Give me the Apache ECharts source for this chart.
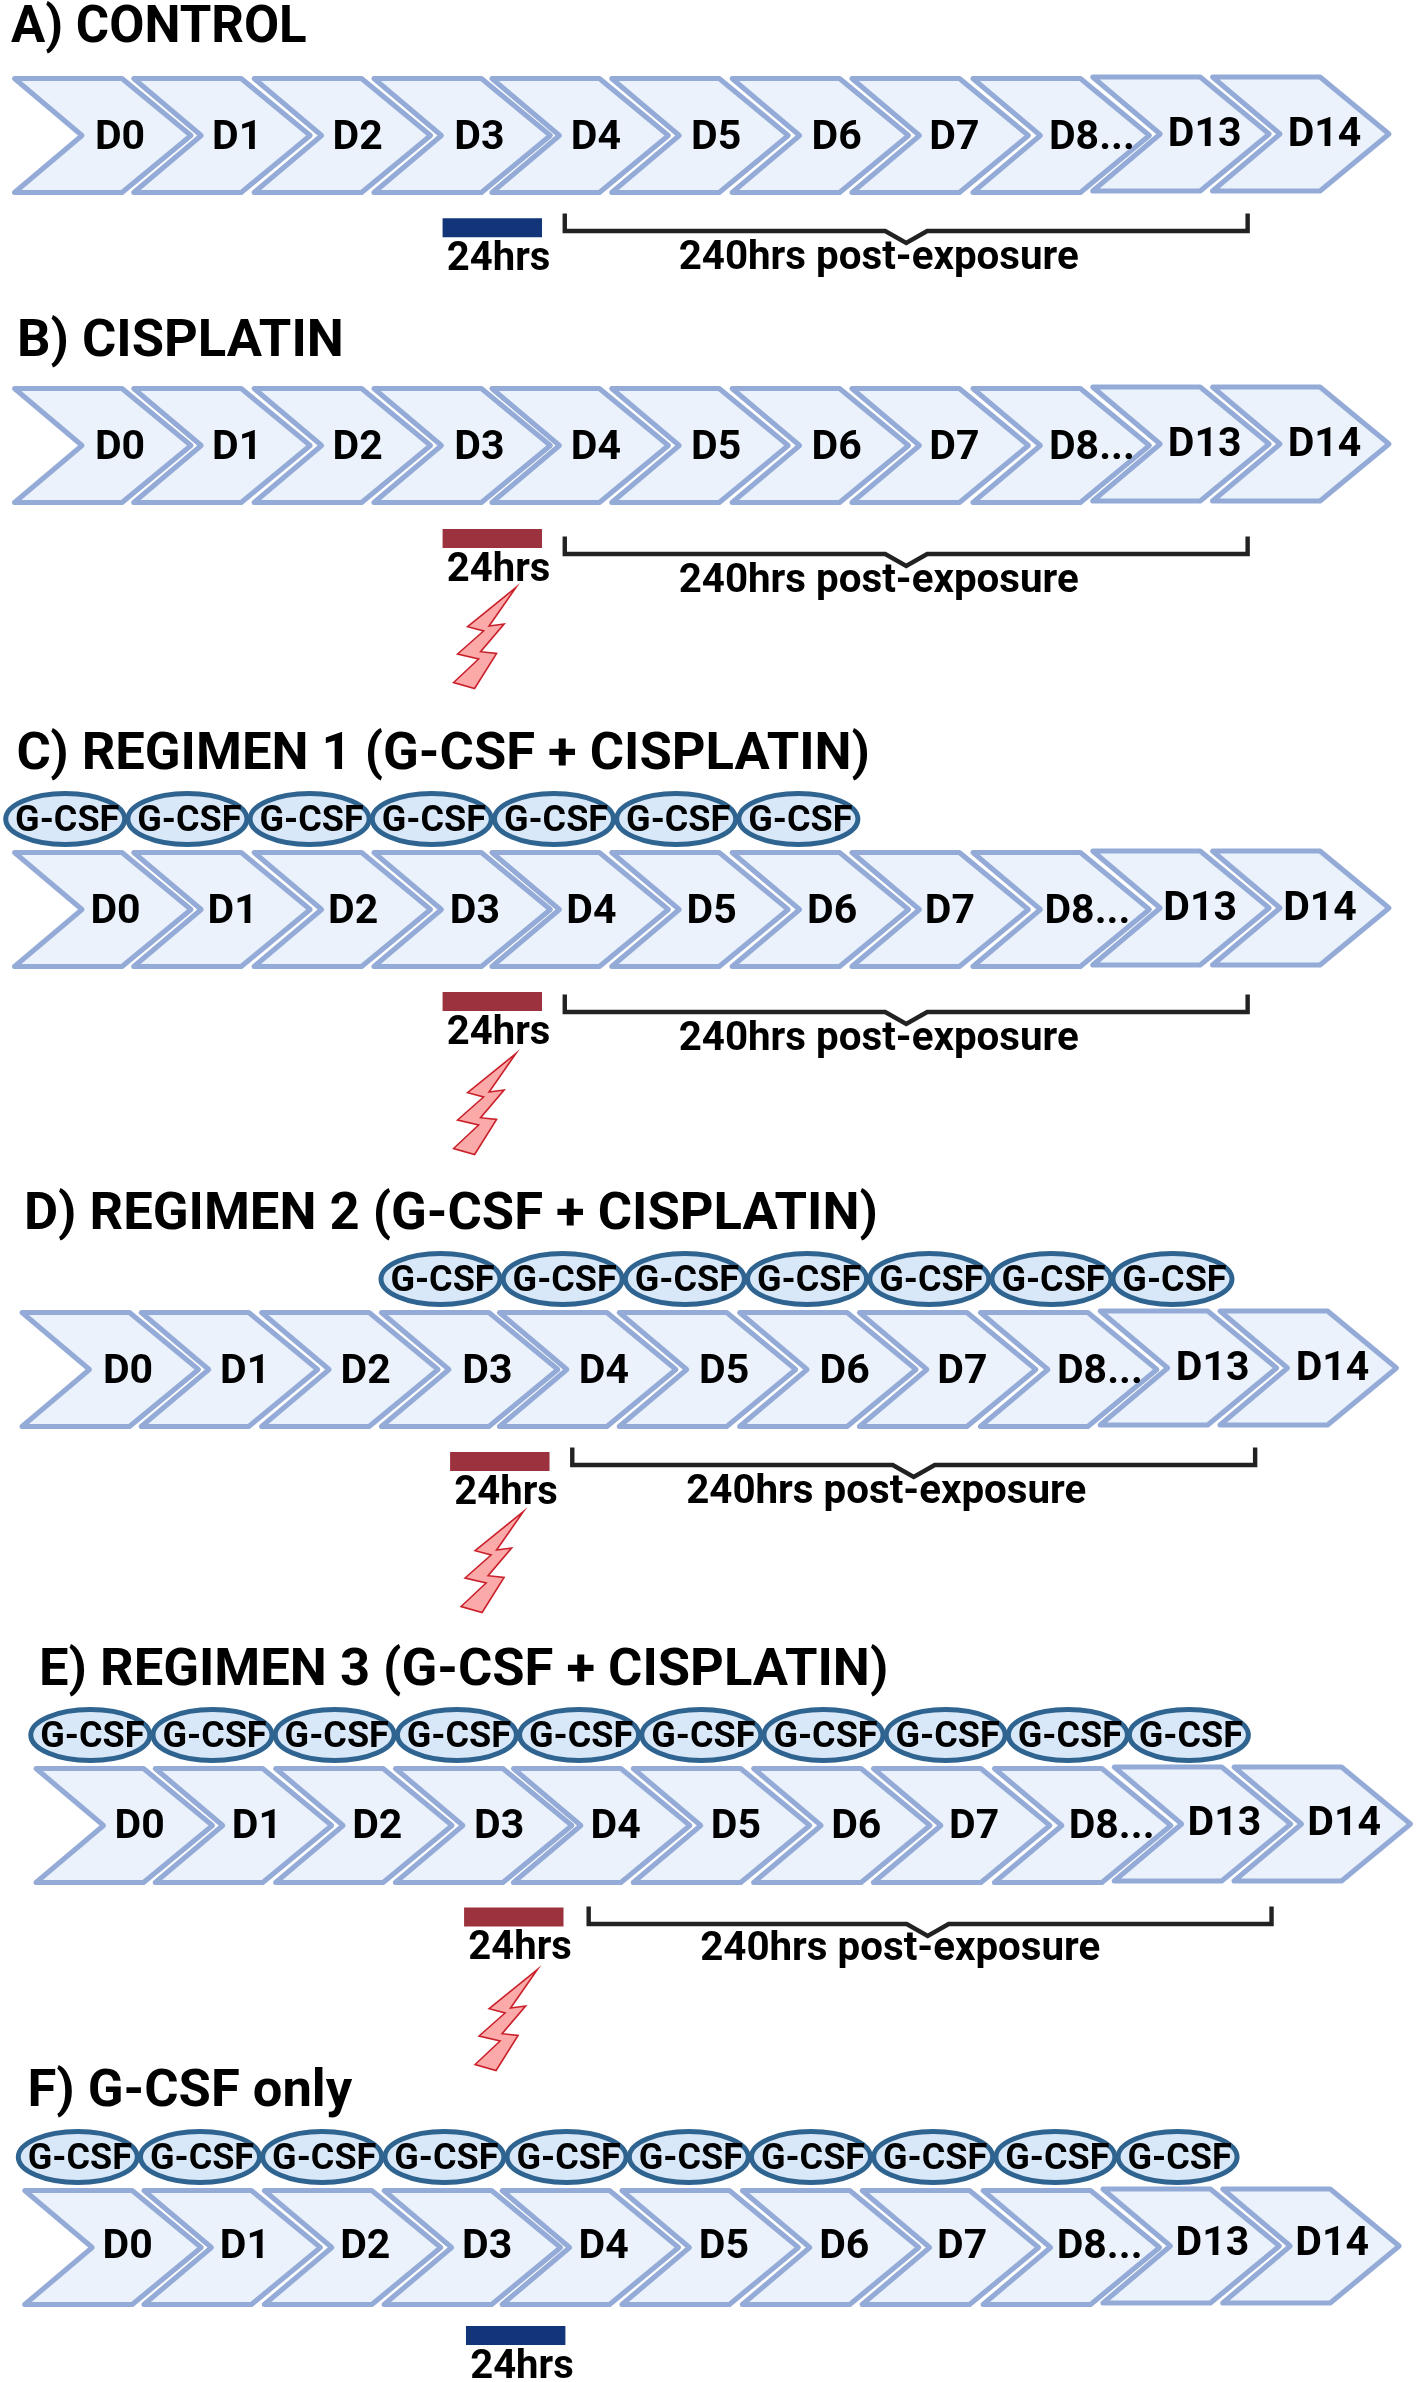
<!DOCTYPE html>
<html><head><meta charset="utf-8">
<style>html,body{margin:0;padding:0;background:#fff}#c{width:1416px;height:2382px}</style>
<script src="https://cdn.jsdelivr.net/npm/echarts@6/dist/echarts.min.js"></script>
</head><body><div id="c"></div>
<script>
// ---- content ----
const panelTitles = ['A) CONTROL','B) CISPLATIN','C) REGIMEN 1 (G-CSF + CISPLATIN)','D) REGIMEN 2 (G-CSF + CISPLATIN)','E) REGIMEN 3 (G-CSF + CISPLATIN)','F) G-CSF only'];
const days = ['D0','D1','D2','D3','D4','D5','D6','D7','D8...','D13','D14'];
// x of each day chevron, in day slots
const daySlots = [0,0.995,2,3,3.985,4.985,5.99,6.99,8,9,10];
// G-CSF doses: centre of each oval, in day slots
const gcsfA = [], gcsfB = [];
const gcsfC = [0.44,1.46,2.48,3.5,4.52,5.54,6.56];
const gcsfD = [3.51,4.53,5.55,6.57,7.59,8.61,9.62];
const gcsfE = [0.47,1.49,2.51,3.53,4.55,5.57,6.59,7.61,8.63,9.64];
const gcsfF = [0.46,1.48,2.5,3.52,4.54,5.56,6.58,7.6,8.62,9.64];
const gcsfDoses = [gcsfA,gcsfB,gcsfC,gcsfD,gcsfE,gcsfF];
// 24 hour exposure window, in day slots
const exposureStart = [3.59,3.59,3.59,3.59,3.59,3.70];
const exposureEnd   = [4.42,4.42,4.42,4.42,4.42,4.53];
const exposureKind  = ['vehicle','cisplatin','cisplatin','cisplatin','cisplatin','vehicle'];
const exposureLabel = '24hrs';
// post-exposure bracket, in day slots
const postStart = [4.61,4.61,4.61,4.61,4.63,4.61], postEnd = [10.31,10.31,10.31,10.31,10.33,10.31], postNotch = 7.46;
const postLabel = '240hrs post-exposure';
const postShown = [true,true,true,true,true,false];
const gcsfLabel = 'G-CSF';

// ---- layout ----
const SLOT = 119.8;
const panelLeft = [12.5,12.5,12.5,20,34,22.7];
const panelMid  = [135.5,445.5,909.5,1369.5,1825.5,2247.5];
const panelDepth = [200,300,300,300,300,135];
const titleLeft = [11,17,16.5,24,39,27.5];
const titleCapTop = [7,321,733.7,1193.7,1650,2071];
const titleSize = [51,52.5,52.5,52.5,52.5,52.5];
const labelOffset = [107.5,107.5,103,108,105.7,105];
const labelNudge = [0,-2,-2,0,-1.5,-1,-1,-3,13.5,6.5,6.5];
const labelDrop = [3.5,3.5,3.5,3.5,2,0.5];
const dayLift = [0,0,0,0,0,0,0,0,0,-1.5,-1.5];
const barOffset = [82.8,83.5,82.5,82.5,82,78.5];
const bracketOffset = [0,13,7,0,3,0];
const postLabelDrop = [28,28,28,28,26,28];
const boltDrop = [0,0,2,0,2,0];
const exposureColor = {vehicle:'#12357a',cisplatin:'#9c323d'};
const bolt = [[73.5,141.8],[25,181.2],[41,185.5],[15,208.5],[36,213.5],[11,237],[32,243],[54,208],[38,206.2],[61.5,178.5],[46.5,180.5]];
const FONT = 'Roboto, "Noto Sans", sans-serif';
const ink = '#000';

function text(x,y,str,size,extra){
  return Object.assign({type:'text',z2:50,style:{x,y,text:str,fill:ink,align:'center',verticalAlign:'middle',
    font:'bold '+size+'px '+FONT}},extra||{});
}

const grids=[],xAxes=[],yAxes=[],series=[],titles=[];
panelTitles.forEach((t,p)=>{
  grids.push({left:panelLeft[p],top:panelMid[p]-100,width:11.5*SLOT,height:panelDepth[p],containLabel:false});
  xAxes.push({type:'value',gridIndex:p,min:0,max:11.5,show:false});
  yAxes.push({type:'value',gridIndex:p,min:-100,max:panelDepth[p]-100,inverse:true,show:false});
  titles.push({text:t,left:titleLeft[p],top:titleCapTop[p]-6,padding:0,
    textStyle:{fontFamily:FONT,fontWeight:'bold',fontSize:titleSize[p],color:ink,lineHeight:56}});

  const base={type:'custom',xAxisIndex:p,yAxisIndex:p,clip:false,silent:true,animation:false,coordinateSystem:'cartesian2d'};

  // chevrons
  series.push(Object.assign({},base,{name:'days '+p,z:2,
    data:days.map((d,i)=>[daySlots[i],dayLift[i],d,labelNudge[i]]),encode:{x:0,y:1},
    renderItem(params,api){
      const a=api.coord([api.value(0),api.value(1)]),x=a[0],y=a[1];
      const pts=[[2,-57],[109.5,-57],[178.5,0],[109.5,57],[2,57],[69.5,0]].map(q=>[x+q[0],y+q[1]]);
      return {type:'group',children:[
        {type:'polygon',shape:{points:pts},style:{fill:'#ebf2fc',stroke:'#94abd8',lineWidth:5,lineJoin:'round'}},
        text(x+labelOffset[p]+api.value(3),y+labelDrop[p]+api.value(1),api.value(2),41)
      ]};
    }}));

  // G-CSF ovals
  if(gcsfDoses[p].length) series.push(Object.assign({},base,{name:'G-CSF '+p,z:3,
    data:gcsfDoses[p].map(v=>[v,-90.5]),encode:{x:0,y:1},
    renderItem(params,api){
      const a=api.coord([api.value(0),api.value(1)]);
      return {type:'group',children:[
        {type:'ellipse',shape:{cx:a[0],cy:a[1],rx:59.5,ry:25.5},style:{fill:'#d9e8f8',stroke:'#2f6490',lineWidth:5}},
        text(a[0]+2,a[1]+3,gcsfLabel,36)
      ]};
    }}));

  // exposure bar, its label and the bolt
  series.push(Object.assign({},base,{name:'exposure '+p,z:4,
    data:[[exposureStart[p],barOffset[p],exposureEnd[p]]],encode:{x:[0,2],y:1},
    renderItem(params,api){
      const a=api.coord([api.value(0),api.value(1)]),b=api.coord([api.value(2),api.value(1)+19]);
      const kids=[{type:'rect',shape:{x:a[0],y:a[1],width:b[0]-a[0],height:b[1]-a[1]},style:{fill:exposureColor[exposureKind[p]]}},
        text(a[0]+56,a[1]+41.5,exposureLabel,40)];
      if(exposureKind[p]==='cisplatin'){
        const o=api.coord([api.value(0),boltDrop[p]]);
        kids.push({type:'polygon',shape:{points:bolt.map(q=>[o[0]+q[0],o[1]+q[1]])},style:{fill:'#fba9a9',stroke:'#c9202a',lineWidth:1.6}});
      }
      return {type:'group',children:kids};
    }}));

  // post-exposure bracket
  if(postShown[p]) series.push(Object.assign({},base,{name:'post '+p,z:4,
    data:[[postStart[p],95.5+bracketOffset[p],postEnd[p],postNotch]],encode:{x:[0,2],y:1},
    renderItem(params,api){
      const l=api.coord([api.value(0),api.value(1)]),r=api.coord([api.value(2),api.value(1)]),n=api.coord([api.value(3),api.value(1)]);
      return {type:'group',children:[
        {type:'polyline',shape:{points:[[l[0],l[1]-17.5],[l[0],l[1]],[n[0]-21,l[1]],[n[0],l[1]+12],[n[0]+21,l[1]],[r[0],l[1]],[r[0],l[1]-17.5]]},
          style:{fill:'none',stroke:'#222',lineWidth:4.4,lineJoin:'miter'}},
        text(n[0]-27.5,l[1]+postLabelDrop[p],postLabel,40.3)
      ]};
    }}));
});

const chart=echarts.init(document.getElementById('c'),null,{renderer:'canvas'});
chart.setOption({animation:false,backgroundColor:'#fff',title:titles,grid:grids,xAxis:xAxes,yAxis:yAxes,series});
</script></body></html>
